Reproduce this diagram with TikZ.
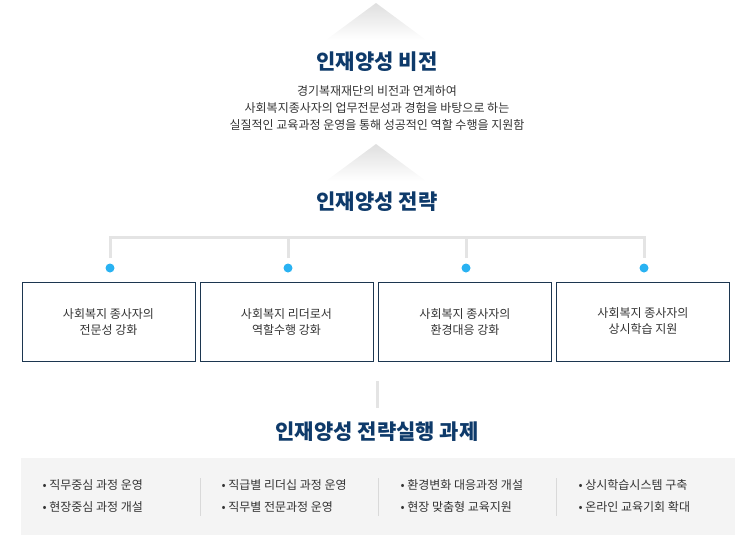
\documentclass[tikz,border=0pt]{standalone}
\usepackage{fontspec}
\setmainfont{Noto Sans CJK KR}
\usetikzlibrary{positioning}
\definecolor{navy}{HTML}{0E3A6A}
\definecolor{skyblue}{HTML}{29B2F2}
\definecolor{boxline}{HTML}{1C3650}
\definecolor{panelgray}{HTML}{F4F4F4}
\definecolor{linegray}{HTML}{E4E4E4}
\definecolor{textgray}{HTML}{333333}
\begin{document}
\begin{tikzpicture}[x=1pt,y=-1pt,
title/.style={font=\bfseries\fontsize{21}{25}\selectfont, text=navy},
goal/.style={draw=boxline, line width=1pt, minimum width=173pt, minimum height=79pt, align=center, font=\fontsize{12}{16}\selectfont, text=textgray},
dot/.style={circle, fill=skyblue, inner sep=0pt, minimum size=9pt},
task/.style={anchor=west, font=\fontsize{12}{22}\selectfont, text=textgray, align=left},
tree/.style={draw=linegray, line width=3pt},
chevron/.style={top color=gray!25, bottom color=white},
]
\useasboundingbox (0,0) rectangle (748,550);

% chevrons
\shade[chevron] (376,3) -- (326,40) -- (426,40) -- cycle;
\shade[chevron] (376,144) -- (326,181) -- (426,181) -- cycle;

% vision
\node[title] (vision) at (377,62) {인재양성 비전};
\node[font=\fontsize{12}{17}\selectfont, text=textgray, align=center] (visiontext) at (377,108)
{경기복재재단의 비전과 연계하여\\사회복지종사자의 업무전문성과 경험을 바탕으로 하는\\실질적인 교육과정 운영을 통해 성공적인 역할 수행을 지원함};

% strategy
\node[title] (strategy) at (377,202) {인재양성 전략};
\coordinate (hub) at (377,237);

\node[goal] (g1) at (108.5,321.5) {사회복지 종사자의\\전문성 강화};
\node[goal] (g2) at (286.5,321.5) {사회복지 리더로서\\역할수행 강화};
\node[goal] (g3) at (465,321.5) {사회복지 종사자의\\환경대응 강화};
\node[goal] (g4) at (643,321.5) {사회복지 종사자의\\상시학습 지원};

\node[dot] (d1) at (110,268) {};
\node[dot] (d2) at (288,268) {};
\node[dot] (d3) at (466,268) {};
\node[dot] (d4) at (644,268) {};

\draw[tree, shorten <=5pt, shorten >=5pt] (d1.north) |- (d4.north |- hub) -- (d4.north);
\draw[tree, shorten <=5pt] (d2.north) -- (d2.north |- hub);
\draw[tree, shorten <=5pt] (d3.north) -- (d3.north |- hub);

\draw[tree] (377,381) -- (377,408);

% tasks
\node[title] (tasks) at (377,432) {인재양성 전략실행 과제};
\node[fill=panelgray, minimum width=714pt, minimum height=77pt, inner sep=0pt] (panel) at (378,496.5) {};
\draw[draw=gray!30] (200,478) -- (200,516);
\draw[draw=gray!30] (378,478) -- (378,516);
\draw[draw=gray!30] (556,478) -- (556,516);

\node[task] (t1) at (39,496) {• 직무중심 과정 운영\\• 현장중심 과정 개설};
\node[task] (t2) at (218,496) {• 직급별 리더십 과정 운영\\• 직무별 전문과정 운영};
\node[task] (t3) at (397,496) {• 환경변화 대응과정 개설\\• 현장 맞춤형 교육지원};
\node[task] (t4) at (575,496) {• 상시학습시스템 구축\\• 온라인 교육기회 확대};
\end{tikzpicture}
\end{document}
